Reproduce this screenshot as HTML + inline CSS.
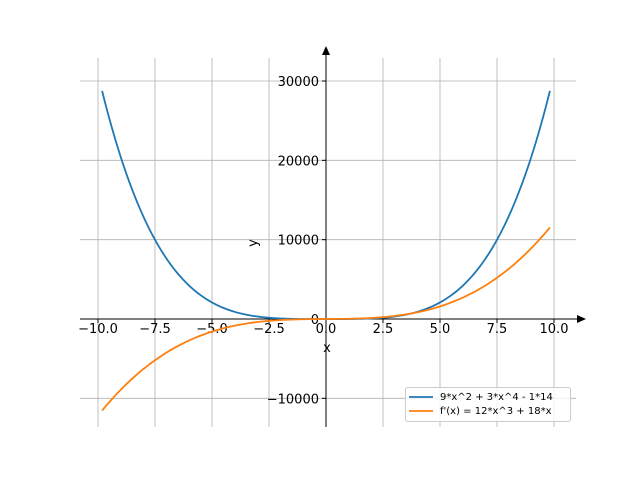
<!DOCTYPE html>
<html><head><meta charset="utf-8"><style>body{margin:0;background:#fff}svg{display:block}text{font-family:"DejaVu Sans","Liberation Sans",sans-serif}</style></head>
<body>
<svg id="s" width="640" height="480" xmlns="http://www.w3.org/2000/svg">
<g stroke="#b0b0b0" stroke-width="0.8" id="grid"></g>
<g id="ticks" font-size="13" fill="#000"></g>
<line x1="326" y1="427" x2="326" y2="52" stroke="#000" stroke-width="1"/>
<polygon points="326,46 322,55 330,55" fill="#000"/>
<line x1="80" y1="319" x2="580" y2="319" stroke="#000" stroke-width="1"/>
<polygon points="586,319 577,315 577,323" fill="#000"/>
<path id="p1" fill="none" stroke="#1f77b4" stroke-width="1.8"/>
<path id="p2" fill="none" stroke="#ff7f0e" stroke-width="1.8"/>
<text x="327" y="352" font-size="13" text-anchor="middle">x</text>
<text x="257" y="243" font-size="13" text-anchor="middle" transform="rotate(-90 257 243)">y</text>
<rect x="405.5" y="387.5" width="165" height="34" rx="2" fill="#fff" fill-opacity="0.8" stroke="#ccc"/>
<line x1="409" y1="397" x2="433" y2="397" stroke="#1f77b4" stroke-width="1.8"/>
<line x1="409" y1="411" x2="433" y2="411" stroke="#ff7f0e" stroke-width="1.8"/>
<text x="440" y="400" font-size="10">9*x^2 + 3*x^4 - 1*14</text>
<text x="440" y="414" font-size="10">f'(x) = 12*x^3 + 18*x</text>
</svg>
<script>
var X=function(x){return 326+x*22.8},Y=function(y){return 319-y*238/30000};
var g=document.getElementById('grid'),t=document.getElementById('ticks'),ns='http://www.w3.org/2000/svg';
function el(p,n,a,txt){var e=document.createElementNS(ns,n);for(var k in a)e.setAttribute(k,a[k]);if(txt)e.textContent=txt;p.appendChild(e);}
for(var v=-10;v<=10;v+=2.5){var px=X(v);el(g,'line',{x1:px,x2:px,y1:58,y2:427});el(t,'line',{x1:px,x2:px,y1:319,y2:323,stroke:'#000'});el(t,'text',{x:px,y:333,'text-anchor':'middle'},(v<0?'\u2212':'')+Math.abs(v).toFixed(1));}
for(var w=-10000;w<=30000;w+=10000){var py=Y(w);el(g,'line',{x1:80,x2:576,y1:py,y2:py});el(t,'line',{x1:322,x2:326,y1:py,y2:py,stroke:'#000'});el(t,'text',{x:319,y:py+5,'text-anchor':'end'},(w<0?'\u2212':'')+Math.abs(w));}
var a='',b='';for(var i=0;i<=200;i++){var x=-9.82+19.64*i/200;a+=(i?'L':'M')+X(x).toFixed(2)+','+Y(9*x*x+3*x*x*x*x-14).toFixed(2);b+=(i?'L':'M')+X(x).toFixed(2)+','+Y(12*x*x*x+18*x).toFixed(2);}
document.getElementById('p1').setAttribute('d',a);document.getElementById('p2').setAttribute('d',b);
</script>
</body></html>
